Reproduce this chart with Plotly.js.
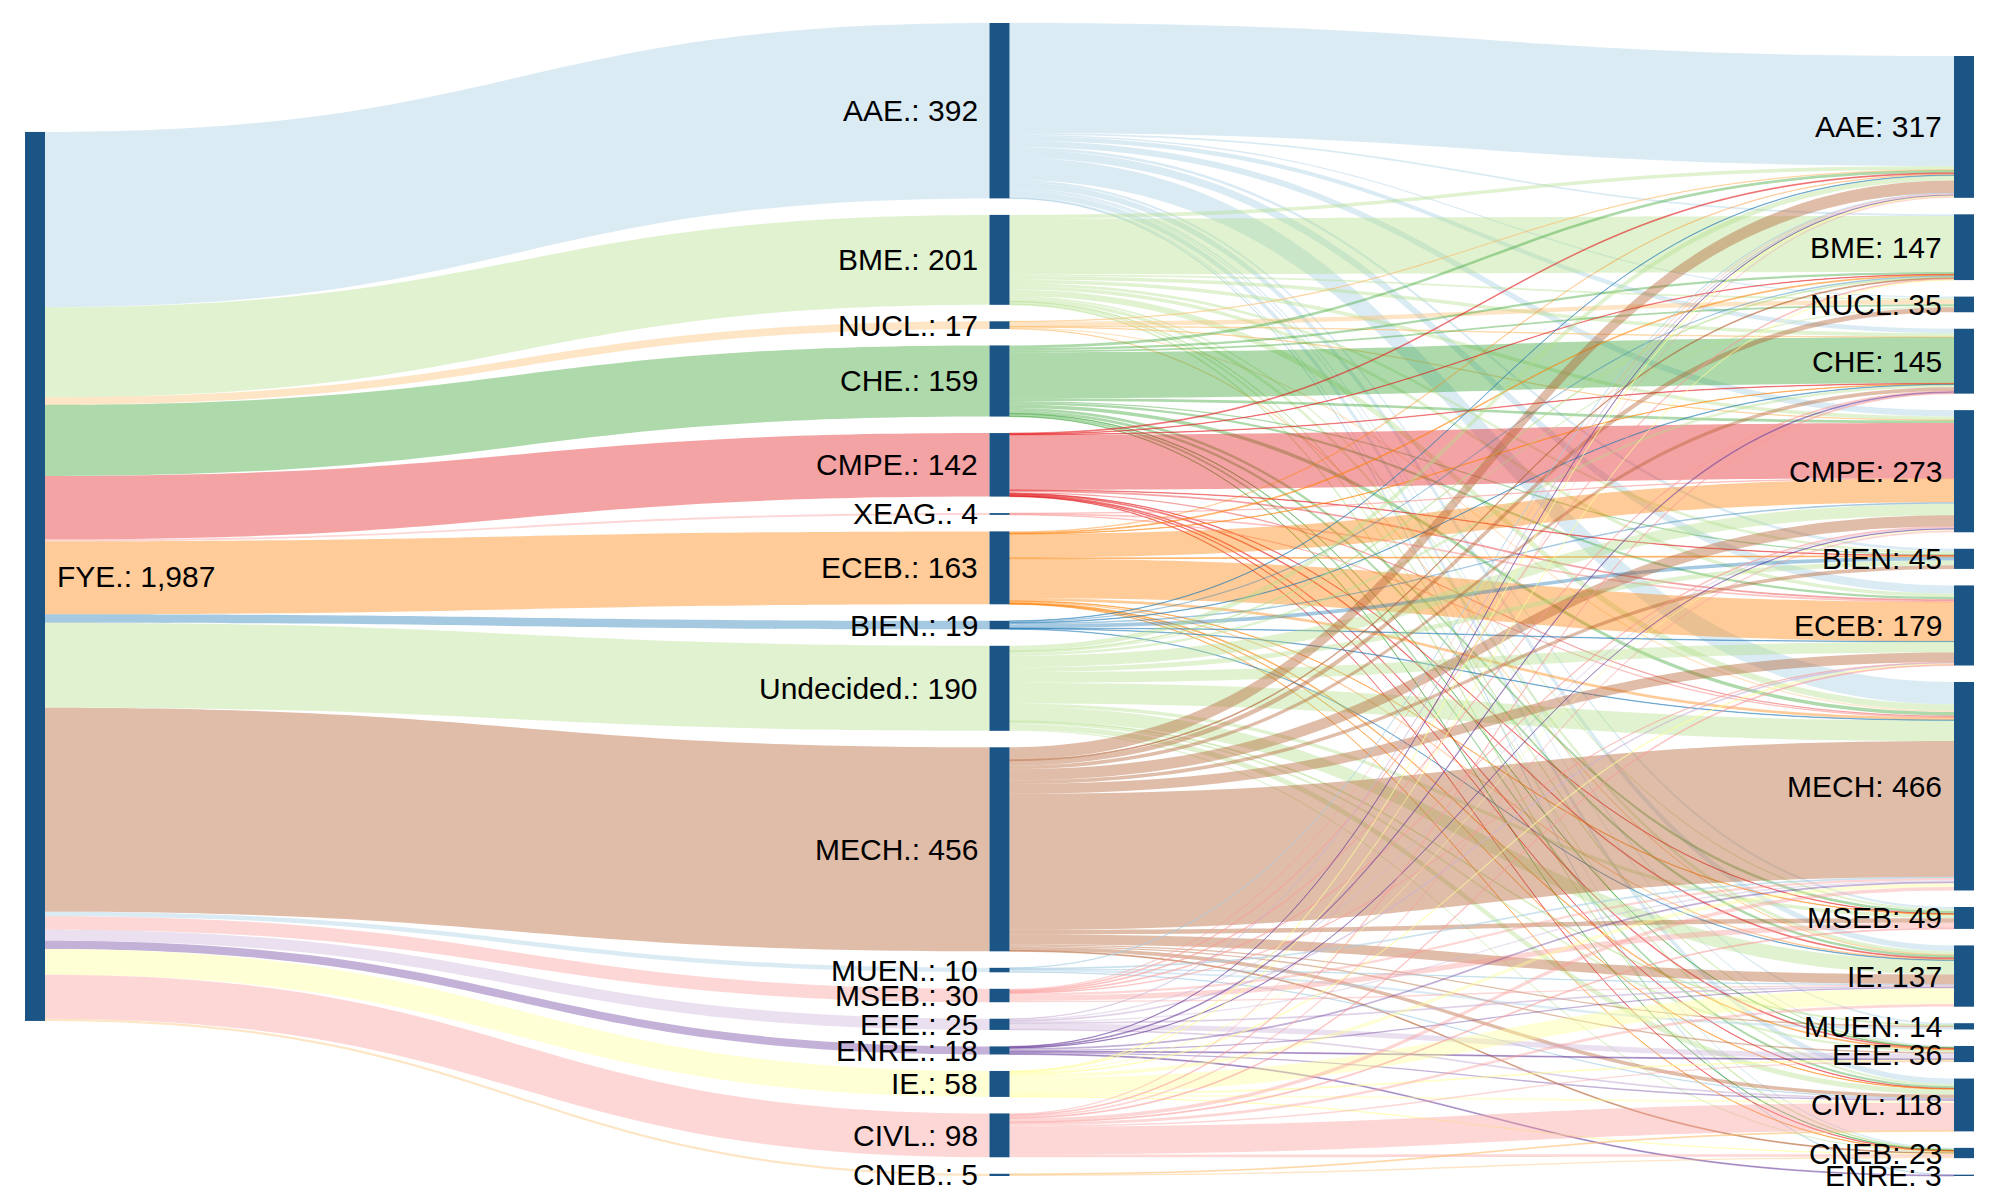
<!DOCTYPE html>
<html><head><meta charset="utf-8">
<script src="https://cdn.plot.ly/plotly-3.0.1.min.js"></script>
<style>html,body{margin:0;padding:0;background:#fff}</style>
</head><body><div id="chart" style="width:2000px;height:1200px"></div>
<script>
// ---------- data ----------
const startName = "FYE";
const midNames = ["AAE","BME","NUCL","CHE","CMPE","XEAG","ECEB","BIEN","Undecided","MECH","MUEN","MSEB","EEE","ENRE","IE","CIVL","CNEB"];
const endNames = ["AAE","BME","NUCL","CHE","CMPE","BIEN","ECEB","MECH","MSEB","IE","MUEN","EEE","CIVL","CNEB","ENRE"];
// flows from each first-year major into each final major (order of endNames)
const fromAAE       = [246,  4,  3, 10, 14,  6, 18, 50,  5, 13,  4,  3, 12,  3,  1];
const fromBME       = [  8,125,  4,  8,  8,  6,  8, 14,  4,  8,  0,  1,  5,  2,  0];
const fromNUCL      = [  1,  0, 10,  1,  1,  0,  0,  3,  0,  1,  0,  0,  0,  0,  0];
const fromCHE       = [  6,  5,  4,103,  6,  3,  5,  8,  6,  6,  0,  1,  5,  1,  0];
const fromCMPE      = [  2,  1,  0,  1,123,  1,  4,  3,  1,  2,  0,  2,  1,  1,  0];
const fromXEAG      = [  0,  0,  0,  0,  1,  0,  2,  1,  0,  0,  0,  0,  0,  0,  0];
const fromECEB      = [  3,  2,  0,  1, 53,  2, 88,  6,  1,  3,  0,  2,  1,  1,  0];
const fromBIEN      = [  1,  3,  0,  1,  3,  8,  1,  1,  0,  1,  0,  0,  0,  0,  0];
const fromUndecided = [ 11,  2,  3,  6, 26, 11, 24, 46,  8, 31,  2,  5, 12,  3,  0];
const fromMECH      = [ 28,  2, 11,  8, 25,  8, 22,304, 10, 22,  3,  3,  8,  2,  0];
const fromMUEN      = [  1,  0,  0,  0,  0,  0,  0,  2,  0,  1,  5,  0,  1,  0,  0];
const fromMSEB      = [  3,  2,  0,  2,  2,  0,  1,  5, 12,  3,  0,  0,  0,  0,  0];
const fromEEE       = [  1,  0,  0,  0,  3,  0,  2,  3,  0,  2,  0, 12,  2,  0,  0];
const fromENRE      = [  1,  0,  0,  2,  1,  0,  0,  4,  0,  3,  0,  2,  3,  0,  2];
const fromIE        = [  2,  1,  0,  0,  3,  0,  2,  8,  0, 35,  0,  2,  4,  1,  0];
const fromCIVL      = [  3,  0,  0,  2,  4,  0,  2,  8,  2,  6,  0,  3, 62,  6,  0];
const fromCNEB      = [  0,  0,  0,  0,  0,  0,  0,  0,  0,  0,  0,  0,  2,  3,  0];

// ---------- style ----------
const midColors = ["#a6cee3","#b2df8a","#fdbf6f","#33a02c","#e31a1c","#fb9a99","#ff7f00","#1f78b4","#b2df8a","#b15928","#a6cee3","#fb9a99","#cab2d6","#6a3d9a","#ffff99","#fb9a99","#fdbf6f"];
const flows = [fromAAE,fromBME,fromNUCL,fromCHE,fromCMPE,fromXEAG,fromECEB,fromBIEN,fromUndecided,fromMECH,fromMUEN,fromMSEB,fromEEE,fromENRE,fromIE,fromCIVL,fromCNEB];

function rgba(hex,a){const n=parseInt(hex.slice(1),16);return `rgba(${n>>16},${(n>>8)&255},${n&255},${a})`;}
const fmt = v => v.toLocaleString('en-US');
const FONT = 'Arial, "Liberation Sans", Helvetica, sans-serif';

const W=2000,H=1200,m={l:25,r:26,t:23,b:24};
const pw=W-m.l-m.r, ph=H-m.t-m.b;
const thick=20, pad=16.5, gap=10, fsize=30;

const midVals = flows.map(r=>r.reduce((a,b)=>a+b,0));
const endVals = endNames.map((_,j)=>flows.reduce((a,r)=>a+r[j],0));
const total = midVals.reduce((a,b)=>a+b,0);
const ky = (ph-(midNames.length-1)*pad)/total;

const xs=[], ys=[], ann=[];
function label(text, yc, x, anchor){
  ann.push({text:text, xref:'paper', yref:'paper', x:x, y:1-yc, xanchor:anchor, yanchor:'middle',
            showarrow:false, font:{family:FONT, size:fsize, color:'#000'}});
}
// start node
xs.push((thick/2)/pw); ys.push(0.48);
label(startName+".: "+fmt(total), 0.48, (thick+gap)/pw, 'left');
// middle column, stacked from the top
let acc=0;
midVals.forEach((v,i)=>{
  const yc=(acc+v*ky/2)/ph; xs.push(0.5); ys.push(yc); acc+=v*ky+pad;
  label(midNames[i]+".: "+fmt(v), yc, (pw/2-thick/2-gap)/pw, 'right');
});
// end column, stacked from the bottom
const endY=new Array(endNames.length); acc=ph;
for(let j=endNames.length-1;j>=0;j--){const v=endVals[j]; endY[j]=(acc-v*ky/2)/ph; acc-=v*ky+pad;}
endVals.forEach((v,j)=>{
  xs.push(1-(thick/2)/pw); ys.push(endY[j]);
  label(endNames[j]+": "+fmt(v), endY[j], (pw-thick-gap)/pw, 'right');
});

const src=[],tgt=[],val=[],col=[];
midVals.forEach((v,i)=>{src.push(0);tgt.push(1+i);val.push(v);col.push(rgba(midColors[i],0.4));});
flows.forEach((row,i)=>row.forEach((v,j)=>{if(v>0){src.push(1+i);tgt.push(1+midNames.length+j);val.push(v);col.push(rgba(midColors[i],0.4));}}));

Plotly.newPlot('chart',[{
  type:'sankey', arrangement:'fixed', valueformat:',d',
  node:{x:xs,y:ys,pad:pad,thickness:thick,color:'#1a5586',line:{width:0}},
  link:{source:src,target:tgt,value:val,color:col},
  textfont:{family:FONT,size:fsize,color:'#000'}
}],{width:W,height:H,margin:m,paper_bgcolor:'#fff',font:{family:FONT},annotations:ann},{staticPlot:true});
</script></body></html>
